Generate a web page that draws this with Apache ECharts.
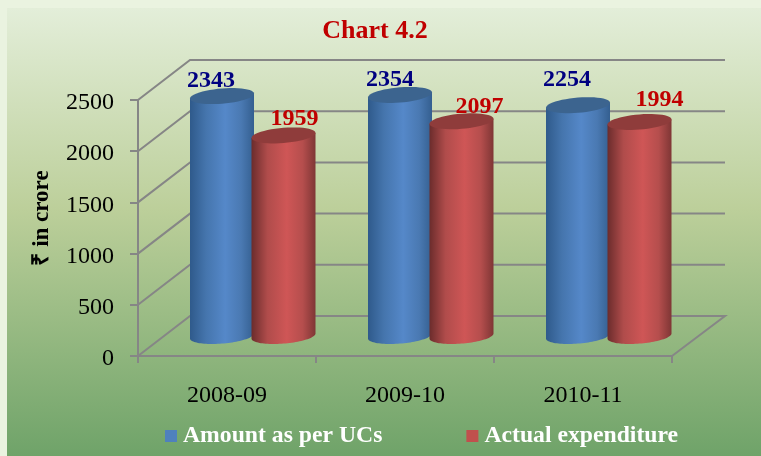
<!DOCTYPE html>
<html>
<head>
<meta charset="utf-8">
<title>Chart 4.2</title>
<script src="https://cdn.jsdelivr.net/npm/echarts@6/dist/echarts.min.js"></script>
<style>
  html, body { margin: 0; padding: 0; background: #eaf3e0; overflow: hidden; }
  #chart { width: 761px; height: 456px; }
</style>
</head>
<body>
<div id="chart"></div>
<script>
// Chart 4.2 - amount per UCs against actual expenditure
var years = ['2008-09', '2009-10', '2010-11'];
var amountValues = [2343, 2354, 2254];
var actualValues = [1959, 2097, 2090];  // last bar is drawn taller than its printed label
var amountLabels = ['2343', '2354', '2254'];
var actualLabels = ['1959', '2097', '1994'];
var yTicks = [0, 500, 1000, 1500, 2000, 2500];

var serif = '"Liberation Serif", "Times New Roman", serif';
var axisGrey = '#868686';

// fake 3D: back wall offset from the front plane
var depthX = 52, depthY = 40;
var barRx = 32, barRy = 7.6, barTilt = 2.5;

function ellipsePoints(cx, cy, from, to) {
  var pts = [];
  for (var i = 0; i <= 48; i++) {
    var t = from + (to - from) * i / 48;
    pts.push([cx + barRx * Math.cos(t), cy + barRy * Math.sin(t) - barTilt * Math.cos(t)]);
  }
  return pts;
}

function gradient(stops) {
  return new echarts.graphic.LinearGradient(0, 0, 1, 0, stops);
}

function cylinderRenderer(opts) {
  return function(params, api) {
    var i = api.value(0);
    var top = api.coord([i, api.value(1)]);
    var base = api.coord([i, 0]);
    var cx = top[0] + opts.shift;
    var yTop = top[1] - depthY / 2;
    var yBase = base[1] - depthY / 2;
    var body = [[cx - barRx, yTop + barTilt]]
      .concat(ellipsePoints(cx, yBase, Math.PI, 0))
      .concat([[cx + barRx, yTop - barTilt]]);
    var lab = opts.labelShift[i];
    return {
      type: 'group',
      children: [
        { type: 'polygon', shape: { points: body }, style: { fill: gradient(opts.side) } },
        { type: 'polygon', shape: { points: ellipsePoints(cx, yTop, 0, Math.PI * 2) }, style: { fill: opts.cap } },
        {
          type: 'text',
          z2: 50,
          style: {
            text: opts.labels[i],
            x: cx + lab[0],
            y: yTop + lab[1],
            align: 'center',
            verticalAlign: 'middle',
            fill: opts.labelColor,
            font: 'bold 24px ' + serif
          }
        }
      ]
    };
  };
}

function renderWall(params, api) {
  var y = api.coord([0, api.value(0)])[1];
  var left = params.coordSys.x;
  var right = left + params.coordSys.width;
  var pts = [[left, y], [left + depthX, y - depthY], [right + depthX + 1, y - depthY]];
  if (api.value(0) === 0) pts.push([right, y]);
  return {
    type: 'polyline',
    shape: { points: pts },
    style: { stroke: axisGrey, lineWidth: 2, fill: null }
  };
}

var chart = echarts.init(document.getElementById('chart'), null, { renderer: 'canvas' });
chart.setOption({
  animation: false,
  graphic: [{
    type: 'rect',
    z: -10,
    silent: true,
    shape: { x: 7, y: 8, width: 754, height: 448 },
    style: {
      fill: new echarts.graphic.LinearGradient(0, 0, 0, 1, [
        { offset: 0, color: '#e3eed9' },
        { offset: 0.45, color: '#bccf9a' },
        { offset: 1, color: '#6fa369' }
      ])
    }
  }],
  title: {
    text: 'Chart 4.2',
    left: 370,
    top: 13,
    textAlign: 'center',
    textStyle: { color: '#c00000', fontFamily: serif, fontWeight: 'bold', fontSize: 26 }
  },
  legend: {
    left: 160,
    top: 419,
    icon: 'rect',
    itemWidth: 12,
    itemHeight: 12,
    itemGap: 84,
    data: ['Amount as per UCs', 'Actual expenditure'],
    textStyle: { color: '#ffffff', fontFamily: serif, fontWeight: 'bold', fontSize: 23.7, padding: [0, 0, 0, 1] }
  },
  grid: { left: 138, right: 89, top: 100, bottom: 100 },
  xAxis: {
    type: 'category',
    data: years,
    axisLine: { lineStyle: { color: axisGrey, width: 2 } },
    axisTick: { show: true, length: 7, lineStyle: { color: axisGrey, width: 2 } },
    axisLabel: { color: '#000', fontFamily: serif, fontSize: 24, margin: 28 }
  },
  yAxis: {
    type: 'value',
    min: 0,
    max: 2500,
    interval: 500,
    name: '₹ in crore',
    nameLocation: 'middle',
    nameGap: 84,
    nameTextStyle: { color: '#000', fontFamily: serif, fontWeight: 'bold', fontSize: 23, padding: [0, 0, 0, 20] },
    axisLine: { show: true, lineStyle: { color: axisGrey, width: 2 } },
    axisTick: { show: true, length: 8, lineStyle: { color: axisGrey, width: 2 } },
    axisLabel: {
      color: '#000',
      fontFamily: serif,
      fontSize: 24,
      margin: 24,
      verticalAlign: 'top',
      lineHeight: 6,
      formatter: function(v) { return String(v); }
    },
    splitLine: { show: false }
  },
  series: [
    {
      type: 'custom',
      name: 'wall',
      silent: true,
      z: 1,
      renderItem: renderWall,
      encode: { y: 0 },
      data: yTicks.map(function(v) { return [v]; })
    },
    {
      type: 'custom',
      name: 'Amount as per UCs',
      z: 2,
      itemStyle: { color: '#4f81bd' },
      renderItem: cylinderRenderer({
        shift: -5,
        side: [
          { offset: 0, color: '#2f5a8b' },
          { offset: 0.25, color: '#4575ad' },
          { offset: 0.55, color: '#5588c9' },
          { offset: 0.8, color: '#4a79b2' },
          { offset: 1, color: '#345f90' }
        ],
        cap: '#3c648f',
        labels: amountLabels,
        labelColor: '#000080',
        labelShift: [[-11, -15], [-10, -15], [-11, -25]]
      }),
      encode: { x: 0, y: 1 },
      data: amountValues.map(function(v, i) { return [i, v]; })
    },
    {
      type: 'custom',
      name: 'Actual expenditure',
      z: 3,
      itemStyle: { color: '#c0504d' },
      renderItem: cylinderRenderer({
        shift: 56.5,
        side: [
          { offset: 0, color: '#6b2c2c' },
          { offset: 0.25, color: '#b04c4b' },
          { offset: 0.55, color: '#cf5656' },
          { offset: 0.8, color: '#b54e4d' },
          { offset: 1, color: '#7f3635' }
        ],
        cap: '#8f3c3b',
        labels: actualLabels,
        labelColor: '#c00000',
        labelShift: [[11, -17], [18, -14], [20, -22]]
      }),
      encode: { x: 0, y: 1 },
      data: actualValues.map(function(v, i) { return [i, v]; })
    }
  ]
});
</script>
</body>
</html>
